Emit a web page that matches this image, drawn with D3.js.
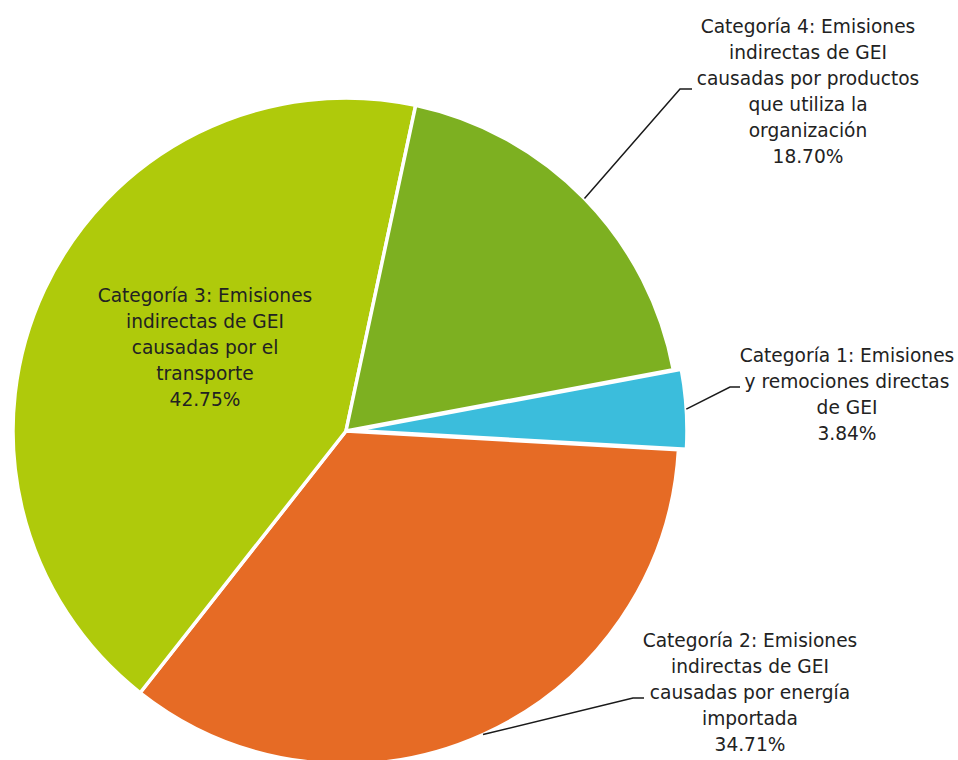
<!DOCTYPE html>
<html>
<head>
<meta charset="utf-8">
<script src="https://cdn.jsdelivr.net/npm/d3@7/dist/d3.min.js"></script>
<style>
  html, body { margin: 0; padding: 0; background: #fff; }
  svg { display: block; }
  .label { font-family: "DejaVu Sans", Verdana, sans-serif; font-size: 18.6px; fill: #222; }
</style>
</head>
<body>
<div id="root"></div>
<script>
"use strict";

// chart data
const categories = [
  "Categoría 1: Emisiones y remociones directas de GEI",
  "Categoría 2: Emisiones indirectas de GEI causadas por energía importada",
  "Categoría 3: Emisiones indirectas de GEI causadas por el transporte",
  "Categoría 4: Emisiones indirectas de GEI causadas por productos que utiliza la organización",
];
const values = [3.84, 34.71, 42.75, 18.70];
const labelLines = [
  ["Categoría 1: Emisiones", "y remociones directas", "de GEI"],
  ["Categoría 2: Emisiones", "indirectas de GEI", "causadas por energía", "importada"],
  ["Categoría 3: Emisiones", "indirectas de GEI", "causadas por el", "transporte"],
  ["Categoría 4: Emisiones", "indirectas de GEI", "causadas por productos", "que utiliza la", "organización"],
];
const colors = ["#3bbddc", "#e66b25", "#afca0b", "#7db021"];

const width = 958;
const height = 760;
const cx = 346;
const cy = 431;
const radius = 333;
const startDeg = 79.4;
const lineHeight = 26;

// label placement: centre x, first baseline, leader elbow and end
const labelPos = [
  { x: 847, y: 362, leader: true, elbow: [730, 387], end: [740, 387], explode: 8 },
  { x: 750, y: 647, leader: true, elbow: [633, 698], end: [644, 698], explode: 0 },
  { x: 205, y: 302, leader: false, explode: 0 },
  { x: 808, y: 33, leader: true, elbow: [680, 89], end: [692, 89], explode: 0 },
];

const pct = (v) => d3.format(".2f")(v) + "%";

const svg = d3.select("#root")
  .append("svg")
  .attr("width", width)
  .attr("height", height);

const pie = d3.pie()
  .sort(null)
  .value((d) => d)
  .startAngle(startDeg * Math.PI / 180)
  .endAngle(startDeg * Math.PI / 180 + 2 * Math.PI);

const arcs = pie(values);
const arc = d3.arc().innerRadius(0).outerRadius(radius);

const g = svg.append("g").attr("transform", `translate(${cx},${cy})`);

g.selectAll("path")
  .data(arcs)
  .enter()
  .append("path")
  .attr("d", arc)
  .attr("transform", (d, i) => {
    const mid = (d.startAngle + d.endAngle) / 2;
    const e = labelPos[i].explode;
    return `translate(${e * Math.sin(mid)},${-e * Math.cos(mid)})`;
  })
  .style("fill", (d, i) => colors[i])
  .style("stroke", "#fff")
  .style("stroke-width", 3.5)
  .style("stroke-linejoin", "round");

// leader lines
arcs.forEach((d, i) => {
  const p = labelPos[i];
  if (!p.leader) return;
  const mid = (d.startAngle + d.endAngle) / 2;
  const r = radius + p.explode;
  const start = [cx + r * Math.sin(mid), cy - r * Math.cos(mid)];
  svg.append("polyline")
    .attr("points", [start, p.elbow, p.end].map((q) => q.join(",")).join(" "))
    .style("fill", "none")
    .style("stroke", "#1a1a1a")
    .style("stroke-width", 1.5);
});

// labels
labelLines.forEach((lines, i) => {
  const p = labelPos[i];
  const text = svg.append("text")
    .attr("class", "label")
    .attr("text-anchor", "middle");
  lines.concat([pct(values[i])]).forEach((line, k) => {
    text.append("tspan")
      .attr("x", p.x)
      .attr("y", p.y + k * lineHeight)
      .text(line);
  });
});
</script>
</body>
</html>
